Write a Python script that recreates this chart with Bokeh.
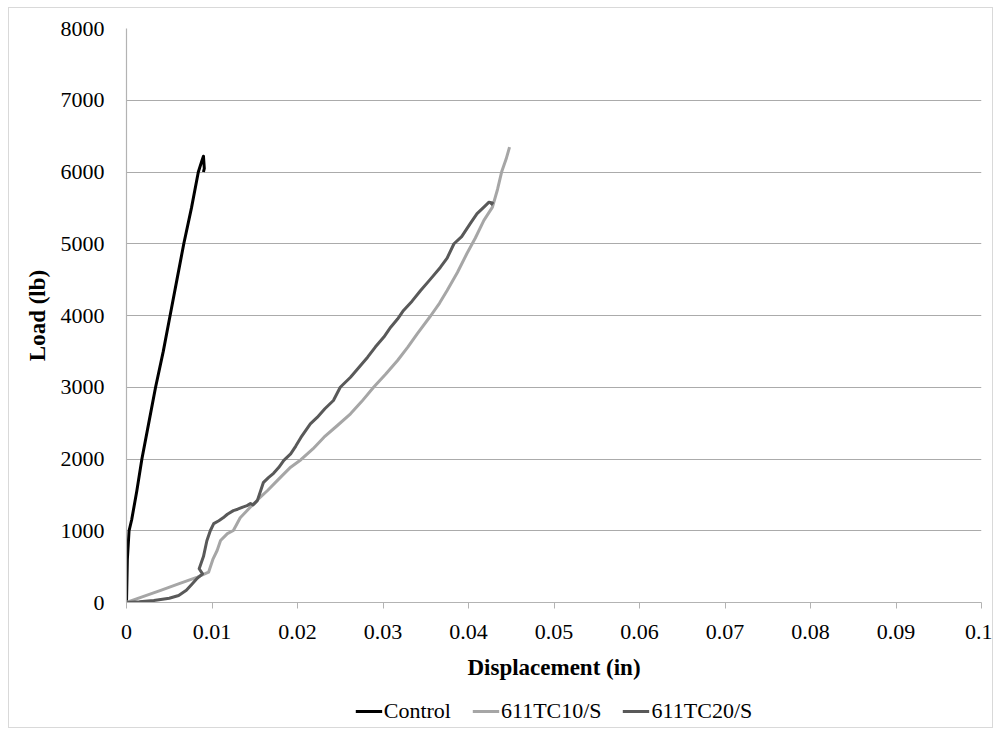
from bokeh.plotting import figure
from bokeh.layouts import column
from bokeh.models import (FixedTicker, CustomJSTickFormatter, Range1d, Legend,
                          LegendItem)
from bokeh.embed import file_html
from bokeh.resources import INLINE

# ---- data ----
control_x = [0, 0.0001, 0.0003, 0.0006, 0.0012, 0.0018, 0.0026, 0.0034, 0.0043,
             0.0051, 0.0059, 0.0067, 0.0076, 0.0084, 0.0088, 0.0090, 0.0091, 0.0090]
control_y = [0, 600, 1000, 1150, 1550, 2000, 2500, 3000, 3500,
             4000, 4500, 5000, 5500, 6000, 6150, 6220, 6050, 6000]

tc10_x = [0, 0.0020, 0.0040, 0.0060, 0.0083, 0.0096, 0.0101, 0.0106, 0.0110,
          0.0118, 0.0125, 0.0133, 0.0145, 0.0155, 0.0165, 0.0178, 0.0192, 0.0204,
          0.0218, 0.0231, 0.0246, 0.0262, 0.0275, 0.0289, 0.0303, 0.0317, 0.0329,
          0.0340, 0.0356, 0.0366, 0.0375, 0.0387, 0.0398, 0.0408, 0.0418, 0.0428,
          0.0434, 0.0439, 0.0444, 0.0448]
tc10_y = [0, 85, 170, 255, 353, 422, 600, 725, 864,
          960, 1003, 1180, 1330, 1450, 1561, 1720, 1886, 1990,
          2140, 2304, 2460, 2630, 2800, 3000, 3180, 3373, 3560,
          3745, 4000, 4170, 4348, 4600, 4860, 5080, 5325, 5510,
          5760, 6011, 6180, 6346]

tc20_x = [0, 0.0015, 0.0032, 0.0050, 0.0061, 0.0070, 0.0077, 0.0083, 0.0089,
          0.0085, 0.0090, 0.0094, 0.0098, 0.0102, 0.0108, 0.0113, 0.0118, 0.0125,
          0.0130, 0.0136, 0.0141, 0.0145, 0.0148, 0.0153, 0.0157, 0.0160, 0.0166,
          0.0172, 0.0178, 0.0184, 0.0192, 0.0198, 0.0204, 0.0215, 0.0223, 0.0232,
          0.0242, 0.0250, 0.0262, 0.0272, 0.0282, 0.0291, 0.0301, 0.0309, 0.0317,
          0.0324, 0.0334, 0.0344, 0.0355, 0.0367, 0.0375, 0.0383, 0.0392, 0.0402,
          0.0410, 0.0418, 0.0424, 0.0428, 0.0426]
tc20_y = [0, 10, 28, 60, 98, 170, 260, 340, 400,
          470, 640, 860, 1000, 1100, 1140, 1180, 1230, 1280,
          1300, 1330, 1350, 1380, 1360, 1420, 1560, 1670, 1740,
          1800, 1880, 1980, 2072, 2180, 2300, 2490, 2580, 2700,
          2815, 3000, 3140, 3280, 3419, 3560, 3700, 3837, 3950,
          4070, 4200, 4348, 4500, 4670, 4800, 5000, 5100, 5280,
          5420, 5510, 5580, 5570, 5540]

x_ticks = [0, 0.01, 0.02, 0.03, 0.04, 0.05, 0.06, 0.07, 0.08, 0.09, 0.1]
y_ticks = [0, 1000, 2000, 3000, 4000, 5000, 6000, 7000, 8000]
series_names = ["Control", "611TC10/S", "611TC20/S"]
series_colors = ["#000000", "#a6a6a6", "#595959"]
series_x = [control_x, tc10_x, tc20_x]
series_y = [control_y, tc10_y, tc20_y]

FONT = "Liberation Serif"

p = figure(frame_width=855, frame_height=574, output_backend="svg",
           toolbar_location=None,
           x_range=Range1d(0, 0.1), y_range=Range1d(0, 8000),
           min_border_left=117, min_border_right=11, min_border_top=20,
           min_border_bottom=92)
p.outline_line_color = None
p.background_fill_color = "white"
p.border_fill_color = "white"

# grid
p.xgrid.grid_line_color = None
p.ygrid.grid_line_color = "#ababab"
p.ygrid.grid_line_width = 1.2
p.ygrid.ticker = FixedTicker(ticks=y_ticks)

# x axis
p.xaxis.ticker = FixedTicker(ticks=x_ticks)
p.xaxis.formatter = CustomJSTickFormatter(
    code="return tick === 0 ? '0' : parseFloat(tick.toFixed(2)).toString();")
p.xaxis.axis_label = "Displacement (in)"
p.xaxis.axis_line_color = "#b3b3b3"
p.xaxis.axis_line_width = 1.2
p.xaxis.major_tick_line_color = "#b3b3b3"
p.xaxis.major_tick_out = 6
p.xaxis.major_tick_in = 0
p.xaxis.minor_tick_line_color = None
p.xaxis.major_label_standoff = 16
p.xaxis.axis_label_standoff = 13

# y axis
p.yaxis.ticker = FixedTicker(ticks=y_ticks)
p.yaxis.axis_label = "Load (lb)"
p.yaxis.axis_line_color = "#b3b3b3"
p.yaxis.axis_line_width = 1.2
p.yaxis.major_tick_line_color = None
p.yaxis.major_tick_out = 0
p.yaxis.major_tick_in = 0
p.yaxis.minor_tick_line_color = None
p.yaxis.major_label_standoff = 22
p.yaxis.axis_label_standoff = 8

for ax in (p.xaxis, p.yaxis):
    ax.major_label_text_font = FONT
    ax.major_label_text_font_size = "22px"
    ax.major_label_text_color = "black"
    ax.axis_label_text_font = FONT
    ax.axis_label_text_font_size = "23px"
    ax.axis_label_text_font_style = "bold"
    ax.axis_label_text_color = "black"

for xs, ys, col in zip(series_x, series_y, series_colors):
    p.line(xs, ys, line_color=col, line_width=3, line_join="round")

# ---- legend strip below the chart ----
# the series are re-drawn here only to feed the legend; the view range lies
# below all data, so nothing but the legend is visible in this strip
leg = figure(width=983, height=33, output_backend="svg", toolbar_location=None,
             x_range=Range1d(0, 1), y_range=Range1d(-2, -1),
             min_border_left=114, min_border_right=0, min_border_top=0,
             min_border_bottom=0)
leg.axis.visible = False
leg.grid.visible = False
leg.outline_line_color = None
leg.border_fill_color = "white"
leg.background_fill_color = "white"
items = []
for name, xs, ys, col in zip(series_names, series_x, series_y, series_colors):
    r = leg.line(xs, ys, line_color=col, line_width=3)
    items.append(LegendItem(label=name, renderers=[r]))
legend = Legend(items=items, orientation="horizontal", location="center",
                label_text_font=FONT, label_text_font_size="22px",
                label_text_color="black", glyph_width=27, glyph_height=20,
                label_height=20, label_standoff=2, spacing=21, padding=0,
                margin=0, border_line_color=None, background_fill_alpha=0)
leg.add_layout(legend)

layout = column(p, leg, spacing=0,
                styles={"border": "1px solid #d9d9d9", "margin-left": "8px",
                        "margin-top": "7px", "background-color": "white"})

open("out.html", "w").write(file_html(layout, INLINE))
